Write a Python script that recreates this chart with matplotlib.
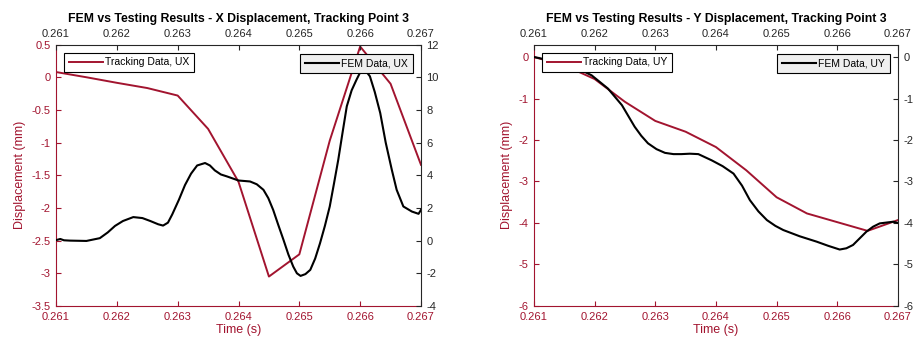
import numpy as np
import matplotlib.pyplot as plt
from matplotlib.ticker import FuncFormatter, FormatStrFormatter
from matplotlib.lines import Line2D

plt.rcParams['font.family'] = ['Liberation Sans', 'DejaVu Sans']
plt.rcParams['axes.unicode_minus'] = False

RED = '#A2142F'
GREY = '#262626'

# tracking data (camera, every 0.5 ms)
track_t = [0.261, 0.2615, 0.262, 0.2625, 0.263, 0.2635, 0.264, 0.2645, 0.265,
           0.2655, 0.266, 0.2665, 0.267]
track_ux = [0.08, 0.0, -0.085, -0.165, -0.28, -0.79, -1.6, -3.05, -2.71,
            -0.97, 0.47, -0.1, -1.34]
track_uy = [0.0, -0.2, -0.53, -1.08, -1.54, -1.80, -2.17, -2.73, -3.38,
            -3.77, -3.98, -4.19, -3.93]

# FEM results
fem_t_x = [0.26101, 0.26107, 0.26113, 0.26123, 0.2615, 0.26172, 0.26185, 0.26197,
           0.2621, 0.26227, 0.26242, 0.26255, 0.26268, 0.26276, 0.26284, 0.26291,
           0.26302, 0.26312, 0.26322, 0.26332, 0.26345, 0.26353, 0.26361, 0.26371,
           0.26381, 0.264, 0.26419, 0.2643, 0.26441, 0.26449, 0.26457, 0.26465,
           0.26474, 0.26482, 0.2649, 0.26496, 0.26502, 0.2651, 0.26518, 0.26526,
           0.26534, 0.26542, 0.2655, 0.26557, 0.26564, 0.26571, 0.26578, 0.26586,
           0.26594, 0.266, 0.26605, 0.2661, 0.26616, 0.26624, 0.26633, 0.26642,
           0.26652, 0.2666, 0.26671, 0.26685, 0.26696, 0.267]
fem_ux = [0.04, 0.1, 0.02, 0.0, -0.02, 0.15, 0.5, 0.9,
          1.2, 1.44, 1.38, 1.2, 1.0, 0.92, 1.1, 1.6,
          2.5, 3.4, 4.1, 4.6, 4.75, 4.6, 4.3, 4.05,
          3.93, 3.68, 3.62, 3.45, 3.11, 2.6, 1.88, 1.0,
          0.04, -0.85, -1.59, -2.0, -2.16, -2.05, -1.79, -1.1,
          -0.16, 0.9, 2.09, 3.5, 4.95, 6.6, 8.22, 9.2,
          9.85, 10.3, 10.47, 10.35, 10.06, 9.1, 7.81, 6.0,
          4.34, 3.11, 2.09, 1.78, 1.64, 1.88]

fem_t_y = [0.261, 0.2614, 0.26173, 0.26195, 0.26222, 0.26245, 0.26266, 0.26277,
           0.26288, 0.26302, 0.26316, 0.2633, 0.26343, 0.26357, 0.26371, 0.26393,
           0.26411, 0.26429, 0.26443, 0.26456, 0.2647, 0.26484, 0.26498, 0.26511,
           0.26538, 0.26566, 0.26585, 0.26604, 0.26615, 0.26626, 0.26637, 0.26648,
           0.26659, 0.2667, 0.26692, 0.267]
fem_uy = [0.0, -0.12, -0.28, -0.44, -0.76, -1.16, -1.68, -1.9,
          -2.08, -2.22, -2.31, -2.34, -2.34, -2.33, -2.34, -2.49,
          -2.63, -2.81, -3.1, -3.45, -3.72, -3.93, -4.07, -4.17,
          -4.32, -4.45, -4.55, -4.64, -4.61, -4.53, -4.37, -4.21,
          -4.09, -4.01, -3.97, -4.0]

time_ticks = [0.261, 0.262, 0.263, 0.264, 0.265, 0.266, 0.267]

fig = plt.figure(figsize=(9.14, 3.43), dpi=100)

gfmt = FuncFormatter(lambda v, p: '%g' % round(v, 6))


def panel(pos, t_track, y_track, t_fem, y_fem, lab, ylim_l, yticks_l, ylim_r, yticks_r, title):
    ax = fig.add_axes(pos)
    ax2 = fig.add_axes(pos)
    ax2.patch.set_visible(False)

    ax.plot(t_track, y_track, color=RED, lw=1.4)
    ax2.plot(t_fem, y_fem, color='black', lw=1.5)

    for a in (ax, ax2):
        a.set_xlim(0.261, 0.267)
        a.set_xticks(time_ticks)
        a.xaxis.set_major_formatter(FormatStrFormatter('%.3f'))
        a.tick_params(direction='in', length=3.5, labelsize=8, pad=4, width=0.8)

    ax.set_ylim(*ylim_l)
    ax.set_yticks(yticks_l)
    ax.yaxis.set_major_formatter(gfmt)
    ax.tick_params(colors=RED)
    ax.spines['left'].set_color(RED)
    ax.spines['bottom'].set_color(RED)
    ax.spines['top'].set_visible(False)
    ax.spines['right'].set_visible(False)
    ax.set_xlabel('Time (s)', color=RED, fontsize=9, labelpad=2)
    ax.set_ylabel('Displacement (mm)', color=RED, fontsize=9, labelpad=4)

    ax2.set_ylim(*ylim_r)
    ax2.set_yticks(yticks_r)
    ax2.yaxis.set_major_formatter(gfmt)
    ax2.xaxis.tick_top()
    ax2.yaxis.tick_right()
    ax2.tick_params(colors=GREY)
    ax2.spines['left'].set_visible(False)
    ax2.spines['bottom'].set_visible(False)
    ax2.spines['top'].set_color(GREY)
    ax2.spines['right'].set_color(GREY)
    ax2.set_title(title, fontsize=8.8, fontweight='bold', pad=5)

    h1 = Line2D([], [], color=RED, lw=1.4)
    h2 = Line2D([], [], color='black', lw=1.5)
    leg1 = ax2.legend([h1], ['Tracking Data, ' + lab], loc='upper left',
                      bbox_to_anchor=(0.022, 0.969), borderaxespad=0, fontsize=7.5,
                      frameon=True, fancybox=False, framealpha=1, edgecolor='black',
                      handlelength=3.3, handletextpad=0.2, borderpad=0.45)
    leg1.get_frame().set_linewidth(0.8)
    ax2.add_artist(leg1)
    leg2 = ax2.legend([h2], ['FEM Data, ' + lab], loc='upper right',
                      bbox_to_anchor=(0.977, 0.964), borderaxespad=0, fontsize=7.5,
                      frameon=True, fancybox=False, framealpha=1, edgecolor='black',
                      facecolor='#efefef',
                      handlelength=3.3, handletextpad=0.2, borderpad=0.45)
    leg2.get_frame().set_linewidth(0.8)


panel([0.0613, 0.108, 0.3993, 0.762], track_t, track_ux, fem_t_x, fem_ux, 'UX',
      (-3.5, 0.5), [-3.5, -3, -2.5, -2, -1.5, -1, -0.5, 0, 0.5],
      (-4, 12), [-4, -2, 0, 2, 4, 6, 8, 10, 12],
      'FEM vs Testing Results - X Displacement, Tracking Point 3')

panel([0.5842, 0.108, 0.3982, 0.762], track_t, track_uy, fem_t_y, fem_uy, 'UY',
      (-6, 0.3), [-6, -5, -4, -3, -2, -1, 0],
      (-6, 0.3), [-6, -5, -4, -3, -2, -1, 0],
      'FEM vs Testing Results - Y Displacement, Tracking Point 3')

fig.savefig('out.png', dpi=100)
